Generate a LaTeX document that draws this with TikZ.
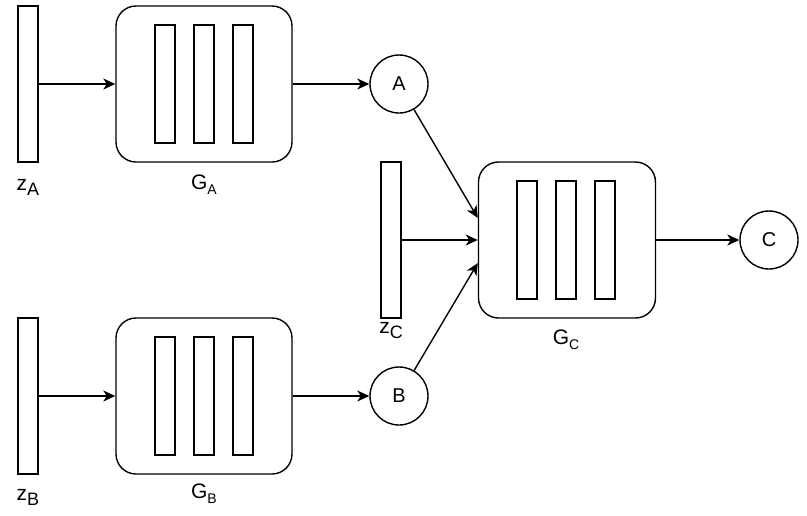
\documentclass[tikz,border=0pt]{standalone}
\usepackage{fontspec}
\setmainfont{Liberation Sans}
\usetikzlibrary{arrows.meta,calc}
\newcommand{\zlbl}[2]{{\fontsize{21}{24}\selectfont #1\raisebox{-5pt}{\fontsize{18}{20}\selectfont #2}}}
\newcommand{\glbl}[2]{{\fontsize{21}{24}\selectfont #1\raisebox{-5pt}{\fontsize{14}{16}\selectfont #2}}}
\begin{document}
\begin{tikzpicture}[x=1pt,y=-1pt,
  every path/.style={line width=1.4pt},
  zbar/.style={draw, line width=1.4pt, minimum width=20pt, minimum height=156pt, inner sep=0pt},
  gbox/.style={draw, line width=1.4pt, rounded corners=20pt, minimum width=176pt, minimum height=156pt, inner sep=0pt},
  ibar/.style={draw, line width=1.4pt, minimum width=20pt, minimum height=118pt, inner sep=0pt},
  circ/.style={draw, circle, line width=1.4pt, minimum size=58pt, inner sep=0pt, font=\fontsize{20}{24}\selectfont},
  lab/.style={inner sep=0pt},
  arr/.style={-{Stealth[length=12pt,width=11pt,inset=3.5pt]}, line width=1.4pt}]
\useasboundingbox (0,0) rectangle (807,515);
% column A
\node[zbar] (zA) at (28,84) {};
\node[gbox] (GA) at (204,84) {};
\node[ibar] (GA1) at (165,84) {};
\node[ibar] (GA2) at (204,84) {};
\node[ibar] (GA3) at (243,84) {};
\node[circ] (A) at (399,84) {A};
\node[lab] (lzA) at (28,187) {\zlbl{z}{A}};
\node[lab] (lGA) at (204,185) {\glbl{G}{A}};
% column B
\node[zbar] (zB) at (28,396) {};
\node[gbox] (GB) at (204,396) {};
\node[ibar] (GB1) at (165,396) {};
\node[ibar] (GB2) at (204,396) {};
\node[ibar] (GB3) at (243,396) {};
\node[circ] (B) at (399,396) {B};
\node[lab] (lzB) at (28,497) {\zlbl{z}{B}};
\node[lab] (lGB) at (204,494) {\glbl{G}{B}};
% column C
\node[zbar] (zC) at (391,240) {};
\node[gbox, minimum width=177pt] (GC) at (567,240) {};
\node[ibar] (GC1) at (527,240) {};
\node[ibar] (GC2) at (566,240) {};
\node[ibar] (GC3) at (605,240) {};
\node[circ] (C) at (769,240) {C};
\node[lab] (lzC) at (391,331) {\zlbl{z}{C}};
\node[lab] (lGC) at (566,340) {\glbl{G}{C}};
\coordinate (GCa) at ([yshift=22pt]GC.west);
\coordinate (GCb) at ([yshift=-23pt]GC.west);
% connectors
\draw[arr] (zA.east) -- (GA.west);
\draw[arr] (GA.east) -- (A.west);
\draw[arr] (zB.east) -- (GB.west);
\draw[arr] (GB.east) -- (B.west);
\draw[arr] (zC.east) -- (GC.west);
\draw[arr] (GC.east) -- (C.west);
\draw[arr] (A) -- (GCa);
\draw[arr] (B) -- (GCb);
\end{tikzpicture}
\end{document}
